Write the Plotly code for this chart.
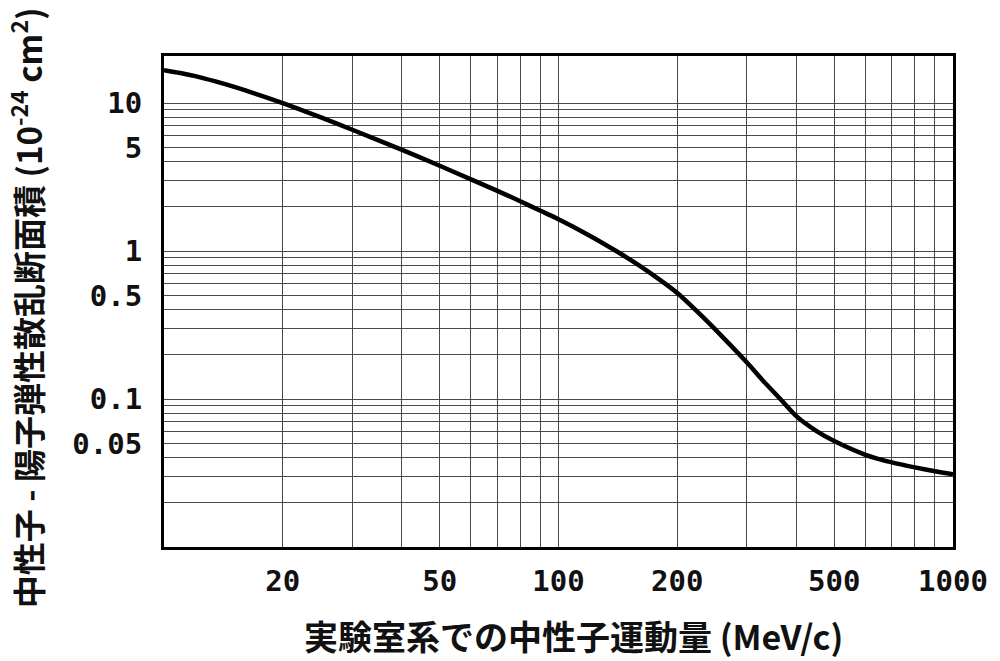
import plotly.graph_objects as go

# Data
momentum = [10, 11, 12, 13.5, 15, 17, 20, 25, 30, 40, 50, 60, 70, 80, 90, 100,
            120, 140, 160, 180, 200, 230, 260, 300, 330, 365, 400, 450, 500,
            600, 700, 800, 900, 1000]
cross_section = [16.7, 15.96, 15.2, 14.0, 12.9, 11.6, 10.0, 8.0, 6.6, 4.84, 3.77,
                 3.05, 2.55, 2.17, 1.87, 1.64, 1.27, 1.0, 0.80, 0.643, 0.52,
                 0.367, 0.264, 0.177, 0.133, 0.1, 0.077, 0.061, 0.052, 0.042,
                 0.0373, 0.0345, 0.0325, 0.031]

x_grid_vals = [20, 30, 40, 50, 60, 70, 80, 90, 100, 200, 300, 400, 500, 600,
               700, 800, 900, 1000]
x_label_vals = [20, 50, 100, 200, 500, 1000]
x_label_text = ["20", "50", "100", "200", "500", "1000"]

y_grid_vals = [0.02, 0.03, 0.04, 0.05, 0.06, 0.07, 0.08, 0.09,
               0.1, 0.2, 0.3, 0.4, 0.5, 0.6, 0.7, 0.8, 0.9,
               1, 2, 3, 4, 5, 6, 7, 8, 9, 10]
y_label_vals = [0.05, 0.1, 0.5, 1, 5, 10]
y_label_text = ["0.05", "0.1", "0.5", "1", "5", "10"]

x_title = "実験室系での中性子運動量 (MeV/c)"
y_title = "中性子 - 陽子弾性散乱断面積 (10<sup>-24</sup> cm<sup>2</sup>)"


def tick_text(grid, label_vals, label_text):
    lookup = dict(zip(label_vals, label_text))
    return [lookup.get(v, "") for v in grid]


fig = go.Figure()
fig.add_trace(go.Scatter(
    x=momentum, y=cross_section, mode="lines",
    line=dict(color="black", width=4.5, shape="spline", smoothing=0.8),
    showlegend=False, hoverinfo="skip",
))

tick_font = dict(family="DejaVu Sans Mono", size=29, color="#111", weight="bold")
x_title_font = dict(family="Noto Sans CJK JP", size=34, color="#111", weight="bold")
y_title_font = dict(family="Noto Sans CJK JP", size=33, color="#111", weight="bold")

fig.update_xaxes(
    type="log", range=[1, 3],
    tickmode="array", tickvals=x_grid_vals,
    ticktext=tick_text(x_grid_vals, x_label_vals, x_label_text),
    showgrid=True, gridcolor="#4a4a4a", gridwidth=1.2,
    showline=True, linecolor="black", linewidth=3, mirror=True,
    ticks="outside", ticklen=6, tickcolor="rgba(0,0,0,0)",
    tickfont=tick_font, zeroline=False,
)
fig.update_yaxes(
    type="log", range=[-2, 1.318],
    tickmode="array", tickvals=y_grid_vals,
    ticktext=tick_text(y_grid_vals, y_label_vals, y_label_text),
    showgrid=True, gridcolor="#4a4a4a", gridwidth=1.2,
    showline=True, linecolor="black", linewidth=3, mirror=True,
    ticks="outside", ticklen=13, tickcolor="rgba(0,0,0,0)",
    tickfont=tick_font, zeroline=False,
)

fig.add_annotation(
    text=x_title, xref="paper", yref="paper", x=0.519, y=-0.181,
    showarrow=False, font=x_title_font, xanchor="center", yanchor="middle",
)
fig.add_annotation(
    text=y_title, xref="paper", yref="paper", x=-0.1732, y=0.487,
    showarrow=False, font=y_title_font, textangle=-90,
    xanchor="center", yanchor="middle",
)

# page body has an 8px margin; compensate so the plot lands where the reference has it
fig.update_layout(
    width=992, height=653,
    margin=dict(l=156, r=45, t=48, b=114),
    plot_bgcolor="white", paper_bgcolor="white",
)

fig.write_html("out.html")
